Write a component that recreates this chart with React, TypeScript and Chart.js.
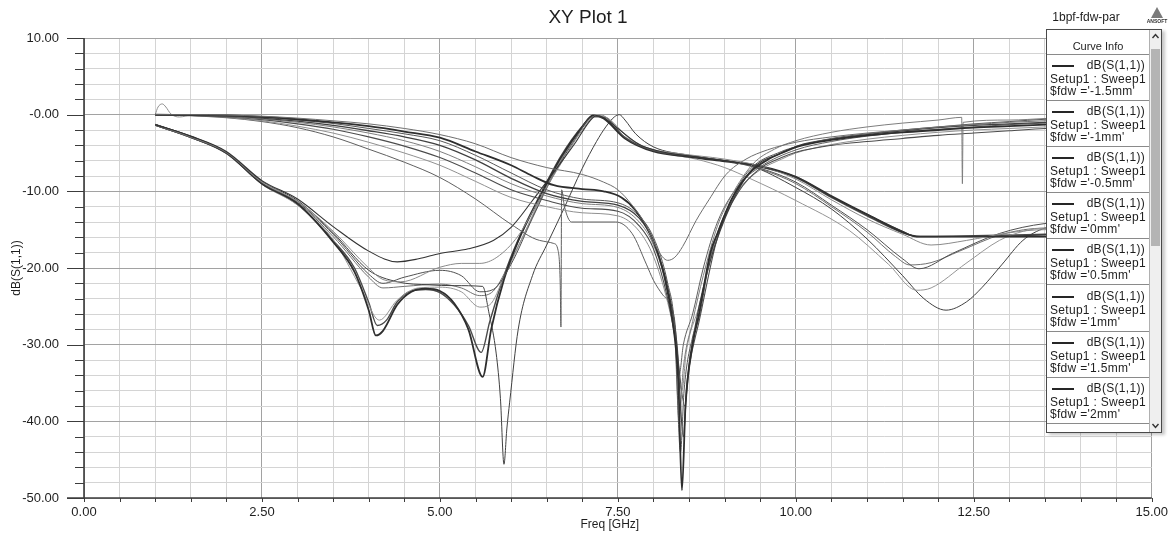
import React, { useEffect, useRef } from 'react';
import { Chart, registerables } from 'chart.js';

Chart.register(...registerables);

// ---------- data (Freq GHz, dB) ----------
const curveA1: [number, number][] = [[1,0],[1.5,0],[2,-0.05],[2.5,-0.2],[3,-0.45],[3.5,-0.8],[4,-1.2],[4.5,-1.8],[5,-2.6],[5.5,-3.8],[6,-5.6],[6.5,-6.9],[7,-7.8],[7.3,-8.8],[7.5,-9.8],[7.7,-11.8],[7.9,-14.5],[8.05,-17.5],[8.2,-19.0],[8.3,-18.6],[8.41,-17.2],[8.6,-13.8],[8.78,-11.1],[9.02,-7.8],[9.3,-5.8],[9.6,-4.6],[10,-3.6],[10.5,-2.9],[11,-2.4],[11.5,-2.0],[12,-1.6],[12.5,-1.3],[13,-1.0],[13.5,-0.8],[14,-0.6],[15,-0.4]];
const curveA2: [number, number][] = [[1,0],[1.5,-0.05],[2,-0.1],[2.5,-0.3],[3,-0.6],[3.5,-1.0],[4,-1.5],[4.5,-2.2],[5,-3.0],[5.5,-4.8],[6,-6.6],[6.3,-8.0],[6.6,-9.2],[7,-9.7],[7.3,-10.0],[7.55,-10.8],[7.75,-12.5],[8.0,-16.5],[8.15,-21],[8.27,-27],[8.35,-35],[8.4,-49],[8.45,-38],[8.55,-30],[8.64,-26],[8.8,-18],[8.9,-15.5],[9.1,-11],[9.35,-7.6],[9.6,-5.9],[9.8,-5.0],[10.05,-4.1],[10.5,-3.3],[11,-2.7],[11.5,-2.3],[12,-2.0],[12.5,-1.7],[13,-1.5],[13.5,-1.3],[14,-1.1],[15,-0.8]];
const curveA3: [number, number][] = [[1,0],[1.5,-0.05],[2,-0.15],[2.5,-0.35],[3,-0.7],[3.5,-1.15],[4,-1.8],[4.5,-2.5],[5,-3.4],[5.5,-5.3],[6,-7.6],[6.5,-9.8],[7,-11.0],[7.5,-11.5],[7.75,-12.8],[8,-16],[8.2,-22],[8.3,-28],[8.38,-44],[8.43,-36],[8.55,-29],[8.64,-26.5],[8.8,-18.5],[9.1,-11],[9.35,-7.2],[9.8,-4.8],[10,-4.2],[10.5,-3.1],[11,-2.5],[11.5,-2.0],[12,-1.6],[12.5,-1.2],[13,-0.9],[13.5,-0.6],[14,-0.4],[15,-0.2]];
const curveA4: [number, number][] = [[1,-0.1],[1.5,-0.1],[2,-0.2],[2.5,-0.45],[3,-0.85],[3.5,-1.4],[4,-2.1],[4.5,-2.9],[5,-4.0],[5.5,-5.9],[6,-8.3],[6.5,-10.3],[7,-11.3],[7.5,-11.8],[7.8,-13.5],[8,-16.6],[8.2,-22.5],[8.33,-30],[8.42,-42],[8.47,-35],[8.6,-27],[8.8,-19],[9.1,-11.5],[9.4,-7.0],[9.8,-5.0],[10.05,-4.0],[10.5,-3.2],[11,-2.6],[11.5,-2.1],[12,-1.7],[12.5,-1.4],[13,-1.2],[13.5,-1.0],[14,-0.8],[15,-0.5]];
const curveA5: [number, number][] = [[1,0],[1.5,-0.1],[2,-0.25],[2.5,-0.55],[3,-1.0],[3.5,-1.6],[4,-2.4],[4.5,-3.4],[5,-4.8],[5.5,-6.8],[6,-9.0],[6.5,-10.6],[7,-11.6],[7.5,-12.1],[7.8,-14],[8,-17],[8.2,-23],[8.3,-29],[8.36,-40],[8.42,-33],[8.55,-27],[8.7,-21],[8.9,-14.5],[9.1,-10.5],[9.4,-6.4],[9.7,-4.5],[10,-3.4],[10.5,-2.3],[11,-1.6],[11.5,-1.1],[12,-0.7],[12.33,-0.35],[12.34,-9.0],[12.35,-1.0],[13,-0.7],[13.5,-0.5],[14,-0.3],[15,-0.2]];
const curveA6: [number, number][] = [[1,0],[1.5,-0.1],[2,-0.3],[2.5,-0.65],[3,-1.2],[3.5,-1.9],[4,-2.9],[4.5,-4.1],[5,-5.6],[5.5,-7.6],[6,-9.8],[6.5,-11.2],[7,-12.2],[7.5,-12.6],[7.8,-14.5],[8,-17.5],[8.2,-24],[8.32,-30],[8.44,-38],[8.5,-33],[8.64,-27],[8.9,-16],[9.2,-10],[9.5,-7],[9.8,-5.6],[10,-4.9],[10.5,-4.0],[11,-3.5],[11.5,-3.1],[12,-2.7],[12.5,-2.4],[13,-2.1],[13.5,-1.8],[14,-1.6],[15,-1.2]];
const curveA7: [number, number][] = [[1,0],[1.04,1.0],[1.1,1.4],[1.15,1.0],[1.22,0.1],[1.34,-0.3],[1.5,-0.1],[2,-0.35],[2.5,-0.8],[3,-1.5],[3.5,-2.4],[4,-3.6],[4.5,-5.0],[5,-6.6],[5.5,-8.7],[6,-10.8],[6.5,-12.0],[7,-12.8],[7.5,-13.2],[7.8,-15.2],[8,-18.5],[8.2,-24.5],[8.3,-29],[8.4,-36],[8.46,-31],[8.64,-25],[8.9,-15.5],[9.2,-9.8],[9.5,-7.2],[9.8,-5.8],[10,-5.0],[10.5,-3.9],[11,-3.2],[11.5,-2.7],[12,-2.3],[12.5,-2.0],[13,-1.8],[13.5,-1.6],[14,-1.4],[15,-1.1]];
const curveA8: [number, number][] = [[1,0],[1.5,-0.15],[2,-0.4],[2.5,-0.9],[3,-1.7],[3.5,-2.9],[4,-4.5],[4.5,-6.2],[5,-8.2],[5.5,-11.0],[6,-14.3],[6.4,-16.4],[6.6,-16.8],[6.66,-17.7],[6.69,-22],[6.7,-27.7],[6.71,-9.8],[6.75,-12],[6.85,-14],[7.47,-14.0],[7.7,-15.5],[7.9,-19.5],[8.0,-21.6],[8.13,-23.5],[8.22,-24.5],[8.3,-27],[8.36,-34],[8.42,-30],[8.55,-26],[8.7,-20],[8.9,-14],[9.2,-9.2],[9.5,-6.8],[10,-4.6],[10.5,-3.5],[11,-2.8],[11.5,-2.3],[12,-1.9],[12.5,-1.6],[13,-1.3],[13.5,-1.1],[14,-0.9],[15,-0.6]];

const curveB1: [number, number][] = [[1,-1.3],[1.5,-2.8],[2,-4.8],[2.5,-8.6],[3,-11.0],[3.5,-14.6],[4,-17.8],[4.4,-19.2],[4.7,-18.8],[5,-18.1],[5.4,-17.5],[5.75,-16.4],[6,-14.7],[6.3,-11.2],[6.6,-7.5],[6.9,-3.7],[7.1,-0.9],[7.2,-0.1],[7.3,-0.4],[7.5,-1.8],[7.8,-3.9],[8.1,-4.8],[8.6,-5.5],[9,-6.0],[9.5,-6.8],[10,-8.1],[10.5,-10.7],[11,-13.0],[11.5,-15.2],[11.7,-15.9],[12.5,-15.9],[13.5,-15.7],[14.2,-15.5],[15,-15.3]];
const curveB2: [number, number][] = [[1,-1.3],[1.5,-2.9],[2,-4.9],[2.5,-8.8],[3,-11.3],[3.5,-15.2],[4,-20.0],[4.2,-21.5],[4.45,-21.8],[5,-19.9],[5.3,-19.4],[5.56,-19.4],[5.8,-18.6],[6.1,-15.8],[6.4,-11],[6.7,-6.4],[7.0,-2.0],[7.2,-0.1],[7.35,-0.4],[7.6,-2.6],[7.9,-4.3],[8.3,-5.0],[9.0,-5.8],[9.5,-6.7],[10,-8.4],[10.5,-11.1],[11,-13.6],[11.5,-15.6],[11.9,-17.0],[12.4,-16.4],[13,-15.4],[13.5,-15.0],[14,-15.0],[15,-15.5]];
const curveB3: [number, number][] = [[1,-1.4],[1.5,-3.0],[2,-5.0],[2.5,-8.9],[3,-11.4],[3.5,-15.6],[4,-20.8],[4.2,-22.0],[4.5,-21.2],[5,-20.3],[5.3,-21.0],[5.56,-23.1],[5.75,-22.8],[6.0,-19.5],[6.3,-13.5],[6.6,-7.8],[6.9,-3.2],[7.15,-0.3],[7.3,-0.3],[7.6,-3.0],[8.0,-4.7],[8.5,-5.4],[9.0,-6.0],[9.5,-7.0],[10,-8.8],[10.5,-11.8],[11,-15],[11.5,-18.8],[11.73,-20.1],[12.2,-18.1],[12.86,-15.5],[13.5,-14.2],[14,-14.0],[15,-14.6]];
const curveB4: [number, number][] = [[1,-1.3],[1.5,-2.9],[2,-5.0],[2.5,-9.0],[3,-11.6],[3.5,-16.6],[3.8,-20.5],[4.0,-25.5],[4.1,-28.8],[4.2,-28.2],[4.4,-24.8],[4.6,-23.1],[4.8,-22.7],[5.0,-23.0],[5.2,-24.6],[5.4,-28.0],[5.6,-34.2],[5.72,-28],[5.9,-21.5],[6.1,-16.5],[6.4,-10.8],[6.7,-5.6],[7.0,-1.6],[7.15,-0.1],[7.3,-0.5],[7.6,-3.1],[8,-4.8],[8.5,-5.5],[9,-6.1],[9.5,-6.7],[10,-8.1],[10.5,-10.6],[11,-13.0],[11.5,-15.3],[11.7,-15.9],[13.5,-15.9],[14.2,-15.8],[15,-15.7]];
const curveB5: [number, number][] = [[1,-1.4],[1.5,-3.0],[2,-5.1],[2.5,-9.1],[3,-11.8],[3.5,-16.3],[3.9,-22.8],[4.15,-26.8],[4.4,-24.2],[4.7,-22.6],[5,-22.5],[5.3,-23.1],[5.56,-25.1],[5.7,-24.8],[5.9,-21.2],[6.2,-15.2],[6.5,-9.2],[6.8,-4.4],[7.1,-0.7],[7.25,0],[7.4,-0.8],[7.7,-3.4],[8.1,-4.9],[8.6,-5.8],[9.0,-6.9],[9.35,-8.3],[10,-11.2],[10.75,-15.1],[11.3,-19.5],[11.7,-22.9],[11.9,-22.6],[12.39,-19.4],[12.86,-16.4],[13.2,-15.2],[13.5,-14.8],[14,-15.5],[15,-17]];
const curveB6: [number, number][] = [[1,-1.3],[1.5,-2.8],[2,-4.9],[2.5,-8.7],[3,-11.2],[3.5,-15.4],[4,-20.3],[4.4,-21.8],[4.85,-22.2],[5.2,-22.3],[5.6,-22.4],[5.69,-25.9],[5.79,-31.1],[5.85,-37],[5.9,-45.6],[5.94,-41],[5.98,-37.5],[6.1,-28],[6.3,-21],[6.5,-17],[6.73,-12.5],[7.0,-7],[7.2,-3.5],[7.33,-1.6],[7.45,-0.3],[7.52,0],[7.6,-0.7],[7.75,-2.5],[8.0,-4.2],[8.5,-5.3],[9.0,-6.0],[9.35,-6.6],[10,-9.5],[10.5,-12.3],[11,-16.2],[11.5,-21],[11.8,-24],[12.11,-25.5],[12.4,-24.4],[12.62,-22.5],[12.9,-19.5],[13.19,-16.4],[13.5,-14.8],[13.8,-14.5],[14.3,-15.5],[15,-17.5]];
const curveB7: [number, number][] = [[1,-1.4],[1.5,-3.0],[2,-5.0],[2.5,-9.0],[3,-11.5],[3.5,-15.9],[4,-21.2],[4.2,-22.6],[4.5,-22.4],[5,-22.1],[5.3,-22.6],[5.56,-23.6],[5.75,-23.0],[6.0,-19],[6.3,-13.3],[6.6,-7.6],[6.9,-3],[7.15,-0.2],[7.3,-0.3],[7.6,-2.9],[8,-4.6],[8.5,-5.4],[9,-6.0],[9.5,-7.1],[10,-9.0],[10.5,-12.0],[11,-15.3],[11.4,-18.5],[11.6,-19.6],[11.9,-19.3],[12.3,-17.8],[12.9,-15.6],[13.5,-14.8],[14,-15.0],[15,-15.5]];
const curveB8: [number, number][] = [[1,-1.3],[1.5,-2.9],[2,-5.0],[2.5,-9.0],[3,-11.7],[3.5,-16.4],[3.8,-20],[4.0,-24.5],[4.12,-27.5],[4.25,-26.8],[4.4,-24.4],[4.6,-23.0],[4.8,-22.8],[5,-23.2],[5.2,-24.8],[5.4,-27.5],[5.58,-31],[5.7,-27],[5.9,-21],[6.1,-16.3],[6.4,-10.6],[6.7,-5.4],[7,-1.5],[7.17,-0.1],[7.3,-0.4],[7.6,-3.0],[8,-4.7],[8.5,-5.4],[9,-6.0],[9.5,-6.8],[10,-8.2],[10.5,-10.8],[11,-13.2],[11.5,-15.4],[11.75,-15.9],[13.5,-15.6],[15,-15.4]];

const curves = [curveA1, curveA2, curveA3, curveA4, curveA5, curveA6, curveA7, curveA8, curveB1, curveB2, curveB3, curveB4, curveB5, curveB6, curveB7, curveB8];
const curveColors = ['#6e6e6e', '#2e2e2e', '#575757', '#404040', '#7e7e7e', '#4c4c4c', '#909090', '#606060', '#333333', '#8a8a8a', '#505050', '#2e2e2e', '#959595', '#404040', '#707070', '#4a4a4a'];
const curveWidths = [1, 1.8, 1, 1.3, 1, 1.1, 1, 1, 1.1, 1, 1, 1.8, 1, 1, 1, 1.4];

const fdwValues = ['-1.5mm', '-1mm', '-0.5mm', '0mm', '0.5mm', '1mm', '1.5mm', '2mm'];
const traceName = 'dB(S(1,1))';
const sweepName = 'Setup1 : Sweep1';

const xMin = 0, xMax = 15, xStep = 0.5, xMajor = 2.5;
const yMin = -50, yMax = 10, yStep = 2, yMajor = 10;

const chartTitle = 'XY Plot 1';
const projectName = '1bpf-fdw-par';
const xTitle = 'Freq [GHz]';
const yTitle = 'dB(S(1,1))';

const FONT = '"Liberation Sans", Arial, Helvetica, sans-serif';

const isMul = (v: number, m: number) => Math.abs(v / m - Math.round(v / m)) < 1e-6;

const decorPlugin = {
  id: 'decor',
  beforeDatasetsDraw(chart: any) {
    const { ctx, chartArea: a, scales } = chart;
    const x = scales.x, y = scales.y;
    ctx.save();
    ctx.strokeStyle = '#3c3c3c';
    ctx.lineWidth = 1;
    const seg = (x1: number, y1: number, x2: number, y2: number) => {
      ctx.beginPath();
      ctx.moveTo(x1, y1);
      ctx.lineTo(x2, y2);
      ctx.stroke();
    };
    for (let v = yMin; v <= yMax + 1e-9; v += yStep) {
      const py = Math.round(y.getPixelForValue(v)) + 0.5;
      seg(isMul(v, yMajor) ? a.left - 17 : a.left - 9, py, a.left, py);
    }
    for (let v = xMin; v <= xMax + 1e-9; v += xStep) {
      const px = Math.round(x.getPixelForValue(v)) + 0.5;
      seg(px, a.bottom, px, a.bottom + 4);
    }
    ctx.lineWidth = 1.6;
    seg(a.left, a.top, a.left, a.bottom);
    seg(a.left - 17, a.bottom, a.right, a.bottom);
    ctx.restore();
  },
  afterDraw(chart: any) {
    const { ctx, chartArea: a } = chart;
    ctx.save();
    ctx.fillStyle = '#1e1e1e';
    ctx.textAlign = 'center';
    ctx.textBaseline = 'middle';
    ctx.font = `19px ${FONT}`;
    ctx.fillText(chartTitle, 588, 18);
    ctx.font = `12px ${FONT}`;
    ctx.fillText(projectName, 1086, 18);
    ctx.fillText(xTitle, (a.left + a.right) / 2 - 8, 525);
    ctx.save();
    ctx.translate(17, (a.top + a.bottom) / 2);
    ctx.rotate(-Math.PI / 2);
    ctx.fillText(yTitle, 0, 0);
    ctx.restore();
    // ANSOFT logo
    ctx.fillStyle = '#7a7a7a';
    ctx.beginPath();
    ctx.moveTo(1157, 7);
    ctx.lineTo(1151, 18);
    ctx.lineTo(1163, 18);
    ctx.closePath();
    ctx.fill();
    ctx.fillStyle = '#333';
    ctx.font = `bold 5px ${FONT}`;
    ctx.fillText('ANSOFT', 1157, 22);
    ctx.restore();
  },
};

function Legend() {
  const headerH = 25;
  const entryH = 46.1;
  const contentW = 102;
  return (
    <div
      style={{
        position: 'absolute', left: 1046, top: 29, width: 116, height: 404,
        background: '#fff', border: '1px solid #4a4a4a', boxSizing: 'border-box',
        fontFamily: FONT, color: '#1e1e1e', boxShadow: '3px 2px 3px rgba(0,0,0,0.22)', overflow: 'hidden',
      }}
    >
      <div style={{ position: 'absolute', left: 0, top: 0, width: contentW, height: headerH, borderBottom: '1px solid #8a8a8a', boxSizing: 'border-box', fontSize: 11, lineHeight: '12px', paddingTop: 10, textAlign: 'center' }}>
        Curve Info
      </div>
      {fdwValues.map((v, i) => (
        <div key={v} style={{ position: 'absolute', left: 0, top: headerH + i * entryH, width: contentW, height: entryH, borderBottom: '1px solid #8a8a8a', boxSizing: 'border-box', fontSize: 12, lineHeight: '13px', letterSpacing: '0.3px' }}>
          <div style={{ position: 'absolute', left: 5, top: 10, width: 22, height: 2, background: '#262626' }} />
          <div style={{ position: 'absolute', right: 4, top: 4, whiteSpace: 'nowrap' }}>{traceName}</div>
          <div style={{ position: 'absolute', left: 3, top: 18, whiteSpace: 'nowrap' }}>{sweepName}</div>
          <div style={{ position: 'absolute', left: 3, top: 30, whiteSpace: 'nowrap' }}>{`$fdw ='${v}'`}</div>
        </div>
      ))}
      <div style={{ position: 'absolute', left: contentW, top: 0, width: 12, height: 402, background: '#efefef', borderLeft: '1px solid #b0b0b0', boxSizing: 'border-box' }}>
        <svg width={11} height={12} style={{ position: 'absolute', left: 0, top: 0 }}>
          <polyline points="2.5,8 5.5,4.5 8.5,8" fill="none" stroke="#333" strokeWidth={1.4} />
        </svg>
        <div style={{ position: 'absolute', left: 1, top: 19, width: 9, height: 197, background: '#b4b4b4' }} />
        <svg width={11} height={12} style={{ position: 'absolute', left: 0, bottom: 0 }}>
          <polyline points="2.5,4 5.5,7.5 8.5,4" fill="none" stroke="#333" strokeWidth={1.4} />
        </svg>
      </div>
    </div>
  );
}

export default function App() {
  const ref = useRef<HTMLCanvasElement>(null);
  useEffect(() => {
    if (!ref.current) return;
    const datasets = curves.map((c, i) => ({
      label: `curve${i + 1}`,
      data: c.map(([f, d]) => ({ x: f, y: d })),
      borderColor: curveColors[i],
      borderWidth: curveWidths[i],
      pointRadius: 0,
      fill: false,
      cubicInterpolationMode: 'monotone' as const,
    }));
    const chart = new Chart(ref.current, {
      type: 'line',
      data: { datasets },
      options: {
        animation: false,
        responsive: false,
        devicePixelRatio: 1,
        events: [],
        layout: { padding: { left: 0, right: 23, top: 38, bottom: 0 } },
        plugins: { legend: { display: false }, tooltip: { enabled: false }, title: { display: false } },
        scales: {
          x: {
            type: 'linear', min: xMin, max: xMax,
            border: { display: false },
            grid: {
              drawTicks: false,
              color: (c: any) => (c.tick && isMul(c.tick.value, xMajor) ? '#a2a2a2' : '#d4d4d4'),
              lineWidth: 1,
            },
            ticks: {
              stepSize: xStep, autoSkip: false, maxRotation: 0, padding: 7,
              color: '#1e1e1e', font: { family: FONT, size: 13 },
              callback: (v: any) => (isMul(Number(v), xMajor) ? Number(v).toFixed(2) : ''),
            },
            afterFit: (s: any) => { s.height = 37; },
          },
          y: {
            type: 'linear', min: yMin, max: yMax,
            border: { display: false },
            grid: {
              drawTicks: false,
              color: (c: any) => (c.tick && isMul(c.tick.value, yMajor) ? '#a2a2a2' : '#d4d4d4'),
              lineWidth: 1,
            },
            ticks: {
              stepSize: yStep, autoSkip: false, padding: 25,
              color: '#1e1e1e', font: { family: FONT, size: 13 },
              callback: (v: any) => {
                const n = Number(v);
                if (!isMul(n, yMajor)) return '';
                return Math.abs(n) < 1e-9 ? '-0.00' : n.toFixed(2);
              },
            },
            afterFit: (s: any) => { s.width = 84; },
          },
        },
      },
      plugins: [decorPlugin],
    } as any);
    return () => chart.destroy();
  }, []);
  return (
    <div style={{ position: 'fixed', left: 0, top: 0, width: 1175, height: 535, background: '#fff', overflow: 'hidden' }}>
      <canvas ref={ref} width={1175} height={535} style={{ position: 'absolute', left: 0, top: 0, width: 1175, height: 535 }} />
      <Legend />
    </div>
  );
}
